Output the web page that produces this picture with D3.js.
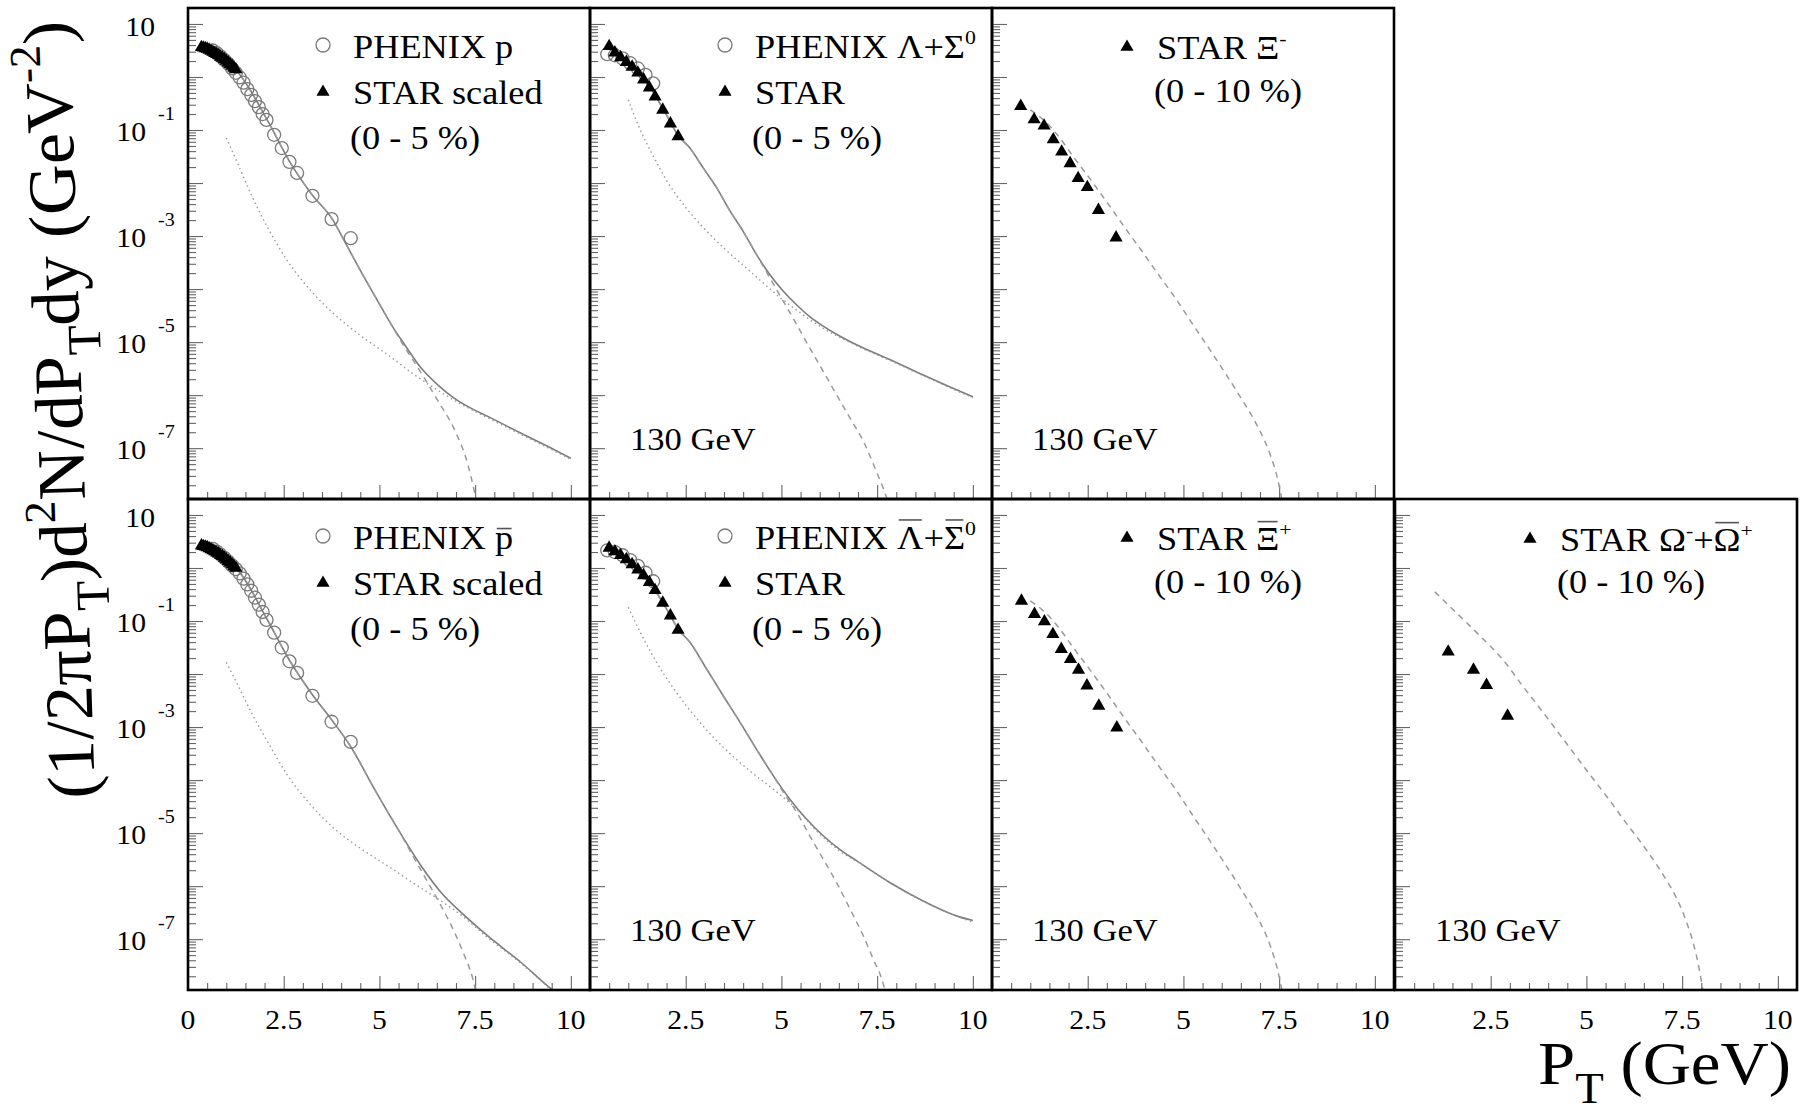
<!DOCTYPE html>
<html><head><meta charset="utf-8">
<script src="https://cdn.jsdelivr.net/npm/d3@7"></script>
<style>html,body{margin:0;padding:0;background:#fff;} svg{display:block;}</style>
</head><body>
<svg id="chart" width="1800" height="1114"></svg>
<script>
// ---------------- axis settings ----------------
const xMajorTicks = [0, 2.5, 5, 7.5, 10];
const xMinorTicks = [0.5,1,1.5,2,3,3.5,4,4.5,5.5,6,6.5,7,8,8.5,9,9.5,10.5];
const xTickLabels = ["0", "2.5", "5", "7.5", "10"];
const yLabelExponents = [1, -1, -3, -5, -7];
const xDomain = [0, 10.5];
const yDomain = [1.1e-8, 20];

// ---------------- data: protons ----------------
const starP = [[0.35,3.63],[0.40,3.55],[0.45,3.47],[0.50,3.39],[0.55,3.24],[0.60,3.09],[0.65,2.95],[0.70,2.82],[0.75,2.69],[0.80,2.57],[0.85,2.40],[0.90,2.29],[0.95,2.14],[1.00,2.00],[1.05,1.86],[1.10,1.74],[1.15,1.62],[1.20,1.48],[1.25,1.38]];
const phenixP = [[0.65,3.16],[0.75,2.82],[0.85,2.45],[0.95,2.09],[1.05,1.78],[1.15,1.45],[1.25,1.20],[1.35,0.98],[1.45,0.78],[1.55,0.59],[1.65,0.46],[1.75,0.35],[1.85,0.27],[1.95,0.20],[2.05,0.155],[2.25,0.0813],[2.45,0.0457],[2.65,0.0251],[2.85,0.0155],[3.25,0.00575],[3.75,0.00209],[4.25,0.000912]];
const pSolid = [[0.5,3.16],[1.0,1.91],[1.31,1.20],[2.09,0.145],[2.65,0.0257],[3.24,0.00603],[3.77,0.00209],[4.09,7.94e-4],[4.61,1.62e-4],[4.96,5.89e-5],[5.31,2.14e-5],[5.66,8.91e-6],[6.09,3.24e-6],[6.53,1.55e-6],[6.96,8.71e-7],[7.40,5.62e-7],[7.83,3.98e-7],[8.70,1.91e-7],[9.57,9.33e-8],[10.0,6.46e-8]];
const pDashed = [[0.5,3.16],[1.0,1.91],[1.31,1.20],[2.09,0.145],[2.65,0.0257],[3.24,0.00603],[3.77,0.00209],[4.09,7.94e-4],[4.61,1.62e-4],[4.96,5.89e-5],[5.31,2.14e-5],[5.57,1.02e-5],[6.09,2.63e-6],[6.53,7.76e-7],[6.96,2.24e-7],[7.31,4.90e-8],[7.48,1.51e-8],[7.53,1.0e-8]];
const pDotted = [[1.0,0.0708],[1.31,0.0224],[1.65,0.00603],[2.09,0.00141],[2.61,3.31e-4],[3.22,9.12e-5],[3.83,3.31e-5],[4.53,1.29e-5],[5.22,5.75e-6],[5.92,2.40e-6],[6.44,1.35e-6],[6.96,7.94e-7],[7.83,3.72e-7],[8.70,1.82e-7],[10.0,6.17e-8]];

// ---------------- data: antiprotons ----------------
const starPbar = [[0.35,2.63],[0.40,2.57],[0.45,2.51],[0.50,2.45],[0.55,2.34],[0.60,2.24],[0.65,2.14],[0.70,2.04],[0.75,1.95],[0.80,1.86],[0.85,1.74],[0.90,1.66],[0.95,1.55],[1.00,1.45],[1.05,1.35],[1.10,1.26],[1.15,1.17],[1.20,1.07],[1.25,1.00]];
const phenixPbar = [[0.65,2.29],[0.75,2.04],[0.85,1.78],[0.95,1.55],[1.05,1.32],[1.15,1.12],[1.25,0.955],[1.35,0.794],[1.45,0.631],[1.55,0.490],[1.65,0.372],[1.75,0.275],[1.85,0.204],[1.95,0.148],[2.05,0.105],[2.25,0.0603],[2.45,0.0316],[2.65,0.0174],[2.85,0.0105],[3.25,0.00389],[3.75,0.00126],[4.25,5.25e-4]];
const pbarSolid = [[0.5,2.40],[1.0,1.38],[1.31,0.891],[2.09,0.100],[2.65,0.0182],[3.24,0.00417],[3.77,0.00132],[4.26,4.17e-4],[4.87,6.76e-5],[5.48,1.20e-5],[6.09,2.40e-6],[6.61,7.59e-7],[7.14,3.16e-7],[7.83,1.15e-7],[8.70,3.63e-8],[9.49,1.15e-8],[9.6,1.0e-8]];
const pbarDashed = [[0.5,2.40],[1.0,1.38],[1.31,0.891],[2.09,0.100],[2.65,0.0182],[3.24,0.00417],[3.77,0.00132],[4.26,4.17e-4],[4.87,6.76e-5],[5.48,1.20e-5],[5.92,3.24e-6],[6.27,1.17e-6],[6.61,4.27e-7],[6.96,1.35e-7],[7.22,4.90e-8],[7.44,1.78e-8],[7.52,1.0e-8]];
const pbarDotted = [[1.0,0.0166],[1.31,0.00603],[1.65,0.00191],[2.09,5.13e-4],[2.61,1.20e-4],[3.22,3.31e-5],[3.83,1.20e-5],[4.53,5.01e-6],[5.22,2.40e-6],[5.92,1.10e-6],[6.61,5.25e-7],[7.14,2.82e-7],[7.83,1.07e-7],[8.70,3.47e-8],[9.49,1.10e-8]];

// ---------------- data: lambda ----------------
const starLam = [[0.50,3.80],[0.65,2.88],[0.80,2.34],[0.95,1.91],[1.10,1.55],[1.25,1.20],[1.40,0.891],[1.55,0.631],[1.70,0.427],[1.90,0.240],[2.10,0.132],[2.30,0.0759]];
const phenixLam = [[0.45,2.69],[0.65,2.57],[0.85,2.24],[1.05,1.82],[1.25,1.45],[1.45,1.10],[1.65,0.759]];
const lamSolid = [[0.5,3.55],[1.0,1.82],[1.5,0.759],[2.0,0.191],[2.30,0.0794],[2.61,0.0457],[2.96,0.0191],[3.31,0.00813],[3.66,0.00295],[4.00,0.00123],[4.35,4.47e-4],[4.70,1.86e-4],[5.05,9.12e-5],[5.40,5.01e-5],[5.74,3.02e-5],[6.09,2.00e-5],[6.53,1.29e-5],[6.96,8.91e-6],[7.83,4.68e-6],[8.70,2.40e-6],[9.57,1.26e-6],[10.0,9.33e-7]];
const lamDashed = [[0.5,3.55],[1.0,1.82],[1.5,0.759],[2.0,0.191],[2.30,0.0794],[2.61,0.0457],[2.96,0.0191],[3.31,0.00813],[3.66,0.00295],[4.00,0.00123],[4.35,4.47e-4],[4.70,1.62e-4],[5.05,5.89e-5],[5.40,2.14e-5],[5.74,7.76e-6],[6.09,2.82e-6],[6.44,1.02e-6],[6.79,3.72e-7],[7.14,1.35e-7],[7.48,3.63e-8],[7.75,1.15e-8],[7.8,8.9e-9]];
const lamDotted = [[1.0,0.372],[1.3,0.105],[1.6,0.0380],[2.0,0.0112],[2.5,0.00347],[3.0,0.00135],[3.5,5.89e-4],[4.0,2.82e-4],[4.5,1.35e-4],[5.0,6.61e-5],[5.5,3.55e-5],[6.0,2.00e-5],[6.5,1.26e-5],[7.0,8.32e-6],[8.0,3.98e-6],[9.0,1.86e-6],[10.0,8.91e-7]];

// ---------------- data: anti-lambda ----------------
const starLamBar = [[0.50,2.40],[0.65,2.04],[0.80,1.74],[0.95,1.45],[1.10,1.17],[1.25,0.933],[1.40,0.724],[1.55,0.537],[1.70,0.380],[1.90,0.219],[2.10,0.126],[2.30,0.0676]];
const phenixLamBar = [[0.45,2.14],[0.65,2.00],[0.85,1.74],[1.05,1.41],[1.25,1.10],[1.45,0.813],[1.65,0.562]];
const lamBarSolid = [[0.5,2.34],[1.0,1.38],[1.5,0.603],[2.0,0.170],[2.30,0.0708],[2.61,0.0398],[3.05,0.0123],[3.48,0.00389],[3.92,0.00123],[4.35,3.80e-4],[4.79,1.20e-4],[5.22,4.37e-5],[5.66,1.82e-5],[6.09,8.91e-6],[6.53,4.90e-6],[6.96,3.02e-6],[7.83,1.17e-6],[8.70,5.25e-7],[9.57,2.75e-7],[10.0,2.24e-7]];
const lamBarDashed = [[0.5,2.34],[1.0,1.38],[1.5,0.603],[2.0,0.170],[2.30,0.0708],[2.61,0.0398],[3.05,0.0123],[3.48,0.00389],[3.92,0.00123],[4.35,3.80e-4],[4.79,1.20e-4],[5.05,5.89e-5],[5.40,2.45e-5],[5.74,8.91e-6],[6.09,3.24e-6],[6.44,1.17e-6],[6.79,3.72e-7],[7.14,1.15e-7],[7.40,4.17e-8],[7.62,1.78e-8],[7.72,1.0e-8]];
const lamBarDotted = [[1.0,0.182],[1.31,0.0617],[1.74,0.0166],[2.26,0.00447],[2.87,0.00123],[3.48,4.17e-4],[4.18,1.48e-4],[4.87,6.03e-5],[5.40,2.82e-5],[5.92,1.10e-5],[6.53,4.57e-6],[7.0,2.82e-6],[8.0,9.77e-7],[9.0,4.07e-7],[10.0,2.09e-7]];

// ---------------- data: cascades and omega ----------------
const starXiMinus = [[0.75,0.282],[1.10,0.158],[1.36,0.120],[1.60,0.0661],[1.82,0.0389],[2.04,0.0234],[2.25,0.0123],[2.49,0.00832],[2.78,0.00309],[3.24,9.33e-4]];
const starXiPlus = [[0.77,0.240],[1.11,0.135],[1.37,0.0977],[1.59,0.0562],[1.81,0.0295],[2.05,0.0191],[2.26,0.0120],[2.48,0.00603],[2.79,0.00251],[3.26,9.77e-4]];
const xiDashed = [[1.0,0.240],[1.39,0.145],[1.74,0.0759],[2.09,0.0339],[2.61,0.0107],[3.05,0.00389],[3.48,0.00141],[3.92,5.13e-4],[4.35,1.86e-4],[4.79,6.76e-5],[5.22,2.29e-5],[5.66,7.76e-6],[6.06,2.82e-6],[6.50,8.91e-7],[6.93,2.63e-7],[7.28,7.08e-8],[7.45,2.82e-8],[7.58,1.0e-8]];
const starOmega = [[1.39,0.0263],[2.05,0.0120],[2.39,0.00617],[2.94,0.00162]];
const omegaDashed = [[1.04,0.355],[1.61,0.141],[2.22,0.0525],[2.83,0.0182],[3.35,0.00575],[3.96,0.00155],[4.48,4.90e-4],[5.00,1.55e-4],[5.53,4.90e-5],[6.05,1.51e-5],[6.57,4.79e-6],[7.09,1.29e-6],[7.35,6.03e-7],[7.60,2.24e-7],[7.80,7.94e-8],[7.93,3.16e-8],[8.05,1.0e-8]];

// ---------------- panel table ----------------
const C = n => ({t:n});
const panelDefs = [
  {row:0, col:0, solid:pSolid, dashed:pDashed, dotted:pDotted, circles:phenixP, tris:starP, energy:false,
   legend:[{sym:'c', dy:50, parts:[C('PHENIX p')]}, {sym:'t', dy:96, parts:[C('STAR scaled')]}, {sym:null, dy:141, parts:[C('(0 - 5 %)')]}]},
  {row:0, col:1, solid:lamSolid, dashed:lamDashed, dotted:lamDotted, circles:phenixLam, tris:starLam, energy:true,
   legend:[{sym:'c', dy:50, parts:[C('PHENIX Λ+Σ'), {t:'0', sup:true}]}, {sym:'t', dy:96, parts:[C('STAR')]}, {sym:null, dy:141, parts:[C('(0 - 5 %)')]}]},
  {row:0, col:2, dashed:xiDashed, tris:starXiMinus, energy:true,
   legend:[{sym:'t', dy:51, parts:[C('STAR Ξ'), {t:'-', sup:true}]}, {sym:null, dy:94, parts:[C('(0 - 10 %)')]}]},
  {row:1, col:0, solid:pbarSolid, dashed:pbarDashed, dotted:pbarDotted, circles:phenixPbar, tris:starPbar, energy:false,
   legend:[{sym:'c', dy:50, parts:[C('PHENIX '), {t:'p', bar:0.62}]}, {sym:'t', dy:96, parts:[C('STAR scaled')]}, {sym:null, dy:141, parts:[C('(0 - 5 %)')]}]},
  {row:1, col:1, solid:lamBarSolid, dashed:lamBarDashed, dotted:lamBarDotted, circles:phenixLamBar, tris:starLamBar, energy:true,
   legend:[{sym:'c', dy:50, parts:[C('PHENIX '), {t:'Λ', bar:0.88}, C('+'), {t:'Σ', bar:0.88}, {t:'0', sup:true}]}, {sym:'t', dy:96, parts:[C('STAR')]}, {sym:null, dy:141, parts:[C('(0 - 5 %)')]}]},
  {row:1, col:2, dashed:xiDashed, tris:starXiPlus, energy:true,
   legend:[{sym:'t', dy:51, parts:[C('STAR '), {t:'Ξ', bar:0.86}, {t:'+', sup:true}]}, {sym:null, dy:94, parts:[C('(0 - 10 %)')]}]},
  {row:1, col:3, dashed:omegaDashed, tris:starOmega, energy:true,
   legend:[{sym:'t', dy:52, parts:[C('STAR Ω'), {t:'-', sup:true}, C('+'), {t:'Ω', bar:0.86}, {t:'+', sup:true}]}, {sym:null, dy:94, parts:[C('(0 - 10 %)')]}]}
];

// ---------------- layout ----------------
const colX = [188, 590, 992, 1395];
const rowY = [8, 499];
const PW = 402, PH = 491;
const SERIF = "'Liberation Serif','Times New Roman',serif";
const svg = d3.select('#chart');
svg.append('rect').attr('width',1800).attr('height',1114).attr('fill','#fff');
const defs = svg.append('defs');

function rich(parent, parts, o) {
  const size = o.size;
  const g = parent.append('g').attr('transform',
    `translate(${o.x},${o.y})` + (o.rotate != null ? ` rotate(${o.rotate})` : '') + ` scale(${o.stretch||1},1)`);
  const t = g.append('text').attr('font-family', SERIF).attr('font-size', size)
    .attr('fill', '#000').attr('text-anchor', o.anchor || 'start').style('white-space', 'pre');
  let cur = 0;
  parts.forEach(p => {
    let fs = size, off = 0;
    if (p.sup) { fs = size * (p.scale || 0.6); off = -size * (p.raise || 0.42); }
    if (p.sub) { fs = size * (p.scale || 0.65); off = size * (p.lower || 0.3); }
    t.append('tspan').attr('dy', (off - cur).toFixed(2)).attr('font-size', fs).text(p.t);
    cur = off;
  });
  if (o.length) t.attr('textLength', o.length).attr('lengthAdjust', 'spacingAndGlyphs');
  const node = t.node();
  let idx = 0;
  parts.forEach(p => {
    const n = [...p.t].length;
    if (p.bar) {
      const a = node.getStartPositionOfChar(idx), b = node.getEndPositionOfChar(idx + n - 1);
      const by = -size * p.bar;
      g.append('line').attr('x1', a.x + 1.5).attr('x2', b.x - 1.5).attr('y1', by).attr('y2', by)
        .attr('stroke', '#555').attr('stroke-width', 1.6);
    }
    idx += n;
  });
  return g;
}

const triSym = d3.symbol().type(d3.symbolTriangle).size(75);

panelDefs.forEach((pd, i) => {
  const x0 = colX[pd.col], y0 = rowY[pd.row];
  const x = d3.scaleLinear().domain(xDomain).range([x0, x0 + PW]);
  const y = d3.scaleLog().domain(yDomain).range([y0 + PH, y0]);
  const g = svg.append('g');
  const cid = 'clip' + i;
  defs.append('clipPath').attr('id', cid).append('rect').attr('x', x0).attr('y', y0).attr('width', PW).attr('height', PH);

  // ticks (inward)
  const styleAxis = sel => { sel.select('.domain').remove(); sel.selectAll('line').attr('stroke', '#666').attr('stroke-width', 1.1); sel.selectAll('text').remove(); };
  g.append('g').attr('transform', `translate(0,${y0 + PH})`).call(d3.axisBottom(x).tickValues(xMajorTicks).tickSize(-14).tickFormat('')).call(styleAxis);
  g.append('g').attr('transform', `translate(0,${y0 + PH})`).call(d3.axisBottom(x).tickValues(xMinorTicks).tickSize(-7).tickFormat('')).call(styleAxis);
  const yMajor = d3.range(-7, 2).map(e => Math.pow(10, e));
  const yMinor = [];
  d3.range(-8, 2).forEach(e => { for (let k = 2; k <= 9; k++) { const v = k * Math.pow(10, e); if (v >= yDomain[0] && v <= yDomain[1]) yMinor.push(v); } });
  g.append('g').attr('transform', `translate(${x0},0)`).call(d3.axisLeft(y).tickValues(yMajor).tickSize(-15).tickFormat('')).call(styleAxis);
  g.append('g').attr('transform', `translate(${x0},0)`).call(d3.axisLeft(y).tickValues(yMinor).tickSize(-8).tickFormat('')).call(styleAxis);

  // curves
  const line = d3.line().x(d => x(d[0])).y(d => y(d[1])).curve(d3.curveMonotoneX);
  const cg = g.append('g').attr('clip-path', `url(#${cid})`);
  if (pd.solid) cg.append('path').attr('d', line(pd.solid)).attr('fill', 'none').attr('stroke', '#7d7d7d').attr('stroke-width', 1.6);
  if (pd.dashed) cg.append('path').attr('d', line(pd.dashed)).attr('fill', 'none').attr('stroke', '#9a9a9a').attr('stroke-width', 1.5).attr('stroke-dasharray', '6,5');
  if (pd.dotted) cg.append('path').attr('d', line(pd.dotted)).attr('fill', 'none').attr('stroke', '#9a9a9a').attr('stroke-width', 1.4).attr('stroke-dasharray', '1.5,3.2');

  // markers
  if (pd.circles) cg.selectAll('circle.ph').data(pd.circles).join('circle').attr('class', 'ph')
    .attr('cx', d => x(d[0])).attr('cy', d => y(d[1])).attr('r', 6.5)
    .attr('fill', 'none').attr('stroke', '#7a7a7a').attr('stroke-width', 1.3);
  if (pd.tris) cg.selectAll('path.st').data(pd.tris).join('path').attr('class', 'st')
    .attr('transform', d => `translate(${x(d[0])},${y(d[1])})`).attr('d', triSym).attr('fill', '#000');

  // legend
  pd.legend.forEach(L => {
    const ly = y0 + L.dy;
    if (L.sym === 'c') g.append('circle').attr('cx', x0 + 135).attr('cy', ly - 13).attr('r', 7).attr('fill', 'none').attr('stroke', '#7a7a7a').attr('stroke-width', 1.3);
    if (L.sym === 't') g.append('path').attr('transform', `translate(${x0 + 135},${ly - 12})`).attr('d', triSym).attr('fill', '#000');
    rich(g, L.parts, {x: x0 + (L.sym ? 165 : 162), y: ly, size: 33, stretch: 1.1});
  });
  if (pd.energy) rich(g, [C('130 GeV')], {x: x0 + 40, y: y0 + 442, size: 32, stretch: 1.08});

  // tick labels
  if (pd.row === 1) {
    xMajorTicks.forEach((v, k) => {
      if (pd.col > 0 && v === 0) return;
      rich(svg, [C(xTickLabels[k])], {x: x(v), y: 1029, size: 28, stretch: 1.06, anchor: 'middle'});
    });
  }
  if (pd.col === 0) {
    yLabelExponents.forEach(e => {
      const ty = y(Math.pow(10, e));
      if (e === 1) {
        rich(svg, [C('10')], {x: 155, y: ty + 12, size: 28, stretch: 1.06, anchor: 'end'});
      } else {
        rich(svg, [C('10')], {x: 146, y: ty + 11, size: 28, stretch: 1.06, anchor: 'end'});
        rich(svg, [C(String(e))], {x: 158, y: ty - 10, size: 19, stretch: 1.06});
      }
    });
  }

  // frame
  g.append('rect').attr('x', x0).attr('y', y0).attr('width', PW).attr('height', PH)
    .attr('fill', 'none').attr('stroke', '#000').attr('stroke-width', 2.6);
});

// axis titles
rich(svg, [C('(1/2πP'), {t:'T', sub:true, scale:0.7, lower:0.3}, C(')d'), {t:'2', sup:true, scale:0.65, raise:0.45},
           C('N/dP'), {t:'T', sub:true, scale:0.7, lower:0.3}, C('dy (GeV'), {t:'-2', sup:true, scale:0.65, raise:0.45}, C(')')],
     {x: 95, y: 798, size: 68, rotate: -91.9, length: 778});
rich(svg, [C('P'), {t:'T', sub:true, scale:0.7, lower:0.3}, C(' (GeV)')], {x: 1538, y: 1084, size: 62, length: 253});
</script>
</body></html>
